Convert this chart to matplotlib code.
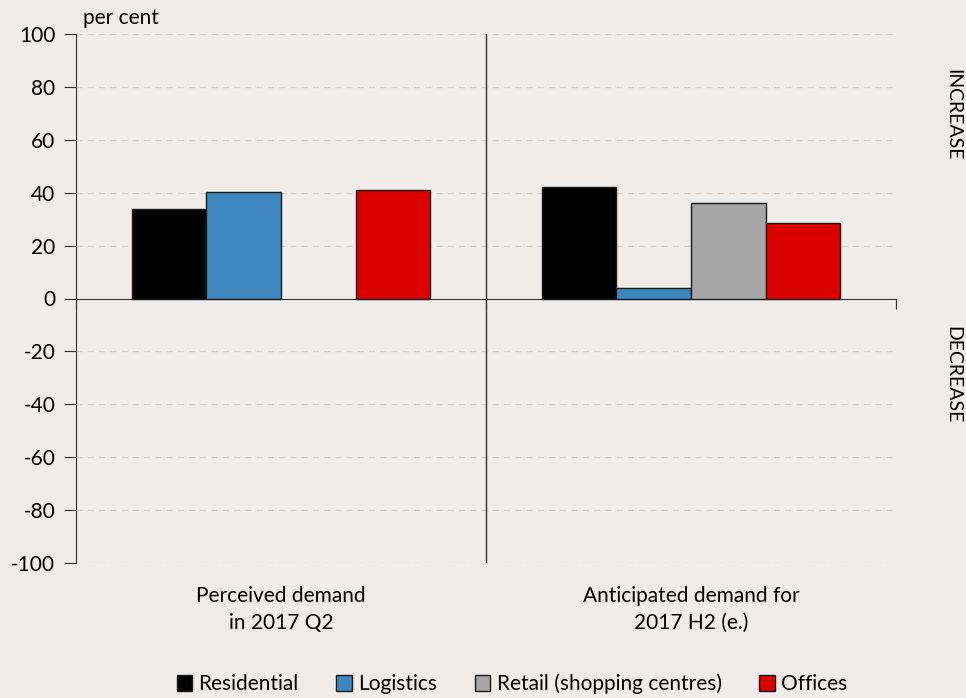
import numpy as np
import matplotlib
matplotlib.use("Agg")
import matplotlib.pyplot as plt
from matplotlib.patches import Patch

plt.rcParams['font.family'] = ['Lato', 'DejaVu Sans']

categories = ["Perceived demand\nin 2017 Q2", "Anticipated demand for\n2017 H2 (e.)"]
series_names = ["Residential", "Logistics", "Retail (shopping centres)", "Offices"]
residential = [34, 42.3]
logistics = [40.2, 4]
retail = [np.nan, 36.1]
offices = [41, 28.4]
values = [residential, logistics, retail, offices]
colors = ["#000000", "#3F88BF", "#A6A6A6", "#DA0000"]
yticks = [-100, -80, -60, -40, -20, 0, 20, 40, 60, 80, 100]

bg = "#EFECE9"
fig = plt.figure(figsize=(9.66, 6.98), dpi=100, facecolor=bg)
ax = fig.add_axes([76/966, 1-563/698, 820/966, (563-34)/698])
ax.set_facecolor(bg)

x = np.arange(len(categories))
w = 0.182
n = len(series_names)
for i, (vals, c) in enumerate(zip(values, colors)):
    offs = (i - (n-1)/2) * w
    v = np.array(vals, dtype=float)
    mask = ~np.isnan(v)
    ax.bar(x[mask] + offs, v[mask], width=w, color=c, edgecolor="#1a1a1a", linewidth=1.0, zorder=3)

ax.set_xlim(-0.5, 1.5)
ax.set_ylim(-100, 100)
ax.set_yticks(yticks)
ax.set_yticklabels([str(t) for t in yticks], fontsize=15)
for t in yticks:
    if t != 0:
        ax.axhline(t, color="#D6D3D0", lw=0.9, ls=(0, (5, 4)), zorder=1)

for s in ["top", "right"]:
    ax.spines[s].set_visible(False)
ax.spines["left"].set_color("#333333")
ax.spines["bottom"].set_position(("data", 0))
ax.spines["bottom"].set_color("#333333")
ax.set_xticks([-0.5, 0.5, 1.5])
ax.set_xticklabels(["", "", ""])
ax.tick_params(axis="x", direction="out", length=7, color="#333333")
ax.tick_params(axis="y", direction="out", length=9, color="#333333", pad=6)
ax.axvline(0.5, color="#333333", lw=1.0, zorder=2)

for xi, lab in zip(x, categories):
    ax.text(xi, -0.043, lab, transform=ax.get_xaxis_transform(), ha="center", va="top",
            fontsize=15, linespacing=1.45)

fig.text(83/966, 1-18/698, "per cent", fontsize=15, ha="left", va="center")
fig.text(953/966, 1-115/698, "INCREASE", fontsize=14, rotation=-90, ha="center", va="center")
fig.text(953/966, 1-375/698, "DECREASE", fontsize=14, rotation=-90, ha="center", va="center")

handles = [Patch(facecolor=c, edgecolor="#1a1a1a", linewidth=1.0) for c in colors]
fig.legend(handles, series_names, loc="center", bbox_to_anchor=(512/966, 1-684/698), ncol=4,
           frameon=False, fontsize=15, handlelength=0.75, handleheight=0.75,
           handletextpad=0.3, columnspacing=1.8)

fig.savefig("out.png", dpi=100, facecolor=bg)
